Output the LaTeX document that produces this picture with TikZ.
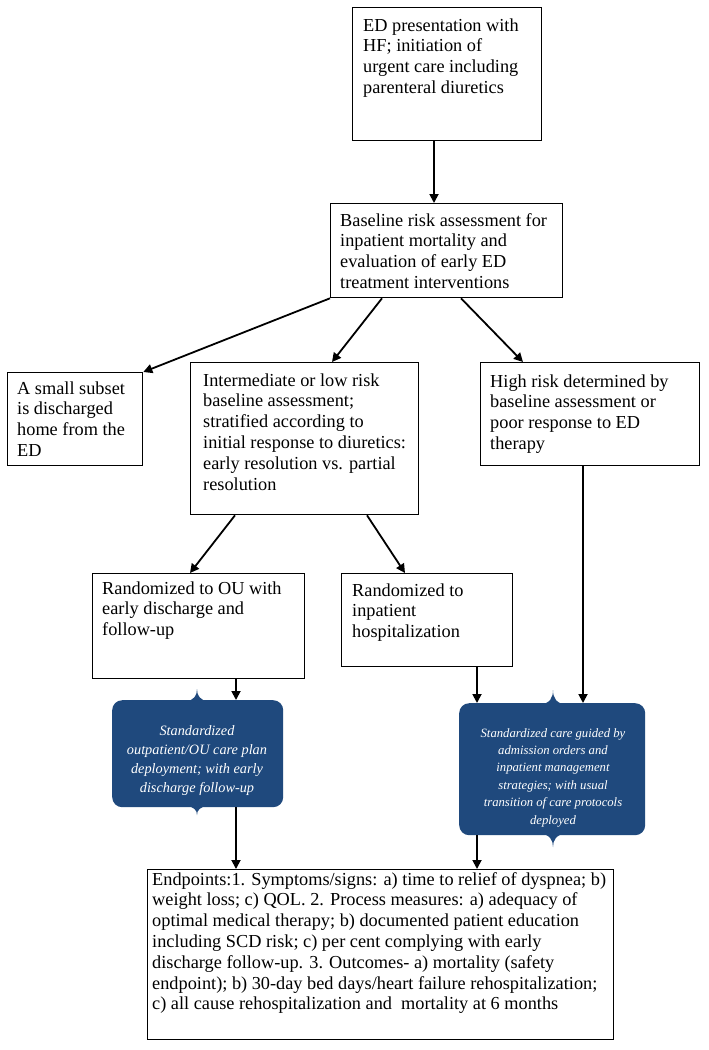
\documentclass[tikz,border=0pt]{standalone}
\usepackage{fontspec}
\setmainfont{Liberation Serif}
\usetikzlibrary{arrows.meta}
\definecolor{bluefill}{HTML}{1F497D}
\newcommand\blines[1]{\begin{tabular}[t]{@{}l@{}}#1\end{tabular}}
\newcommand\clines[1]{\begin{tabular}[t]{@{}c@{}}#1\end{tabular}}
\newcommand\bodyfont{\fontsize{18.3}{20.8}\selectfont}
\tikzset{
  box/.style={draw, line width=1.3pt, anchor=north west, inner sep=0pt},
  txt/.style={inner sep=0pt, font=\bodyfont, anchor=base west},
  bluebox/.style={fill=bluefill, rounded corners=10pt, anchor=north west, inner sep=0pt},
  bluetxt/.style={inner sep=0pt, text=white, anchor=base},
  arr/.style={line width=1.8pt, -{Triangle[length=9pt,width=9pt]}}
}
\begin{document}
\begin{tikzpicture}[x=1pt,y=-1pt]
\useasboundingbox (0,0) rectangle (709,1050);
\fill[white] (0,0) rectangle (709,1050);
% boxes
\node[box, minimum width=189pt, minimum height=133pt] (ed) at (352,7) {};
\node[box, minimum width=232pt, minimum height=94pt] (bra) at (330,203) {};
\node[box, minimum width=135pt, minimum height=93pt] (small) at (7,372) {};
\node[box, minimum width=228pt, minimum height=152pt] (inter) at (190,362) {};
\node[box, minimum width=219pt, minimum height=103pt] (high) at (480,362) {};
\node[box, minimum width=212pt, minimum height=105pt] (ou) at (92,573) {};
\node[box, minimum width=171pt, minimum height=93pt] (inp) at (341,573) {};
\node[box, minimum width=466pt, minimum height=170pt] (end) at (147,869) {};
% texts
\node[txt] (edt) at (363,31) {\blines{ED presentation with\\HF; initiation of\\urgent care including\\parenteral diuretics}};
\node[txt] (brat) at (340,226) {\blines{Baseline risk assessment for\\inpatient mortality and\\evaluation of early ED\\treatment interventions}};
\node[txt] (smallt) at (17,394) {\blines{A small subset\\is discharged\\home from the\\ED}};
\node[txt] (intert) at (203,386) {\blines{Intermediate or low risk\\baseline assessment;\\stratified according to\\initial response to diuretics:\\early resolution vs. partial\\resolution}};
\node[txt] (hight) at (490,387) {\blines{High risk determined by\\baseline assessment or\\poor response to ED\\therapy}};
\node[txt] (out) at (102,594) {\blines{Randomized to OU with\\early discharge and\\follow-up}};
\node[txt] (inpt) at (352,596) {\blines{Randomized to\\inpatient\\hospitalization}};
\node[txt] (endt) at (152,885) {\blines{Endpoints:1. Symptoms/signs: a) time to relief of dyspnea; b)\\weight loss; c) QOL. 2. Process measures: a) adequacy of\\optimal medical therapy; b) documented patient education\\including SCD risk; c) per cent complying with early\\discharge follow-up. 3. Outcomes- a) mortality (safety\\endpoint); b) 30-day bed days/heart failure rehospitalization;\\c) all cause rehospitalization and\ \ mortality at 6 months}};
% blue callouts
\node[bluebox, minimum width=171pt, minimum height=107pt] (b1) at (112,700) {};
\fill[bluefill] (185,702) .. controls (194,700) and (197,696) .. (197,689) .. controls (197,696) and (200,700) .. (209,702) -- cycle;
\fill[bluefill] (185,805) .. controls (194,807) and (197,810) .. (197,815) .. controls (197,810) and (200,807) .. (209,805) -- cycle;
\node[bluetxt, font=\fontsize{14.3}{19.3}\selectfont\itshape] (b1t) at (197,735) {\clines{Standardized\\outpatient/OU care plan\\deployment; with early\\discharge follow-up}};
\node[bluebox, minimum width=186pt, minimum height=132pt] (b2) at (459,703) {};
\fill[bluefill] (540,705) .. controls (550,703) and (553,698) .. (553,690) .. controls (553,698) and (556,703) .. (566,705) -- cycle;
\fill[bluefill] (540,833) .. controls (550,835) and (553,840) .. (553,847) .. controls (553,840) and (556,835) .. (566,833) -- cycle;
\node[bluetxt, font=\fontsize{12.7}{17.4}\selectfont\itshape] (b2t) at (553,737) {\clines{Standardized care guided by\\admission orders and\\inpatient management\\strategies; with usual\\transition of care protocols\\deployed}};
% connectors
\draw[arr] ([xshift=82pt]ed.south west) -- ([xshift=104pt]bra.north west);
\draw[arr] (bra.south west) -- (small.north east);
\draw[arr] ([xshift=52pt]bra.south west) -- ([xshift=142pt]inter.north west);
\draw[arr] ([xshift=131pt]bra.south west) -- ([xshift=43pt]high.north west);
\draw[arr] ([xshift=45pt]inter.south west) -- ([xshift=98pt]ou.north west);
\draw[arr] ([xshift=177pt]inter.south west) -- ([xshift=64pt]inp.north west);
\draw[arr] ([xshift=144pt]ou.south west) -- ([xshift=124pt]b1.north west);
\draw[arr] ([xshift=124pt]b1.south west) -- ([xshift=89pt]end.north west);
\draw[arr] ([xshift=136pt]inp.south west) -- ([xshift=18pt]b2.north west);
\draw[arr] ([xshift=103pt]high.south west) -- ([xshift=124pt]b2.north west);
\draw[arr] ([xshift=18pt]b2.south west) -- ([xshift=330pt]end.north west);
\end{tikzpicture}
\end{document}
